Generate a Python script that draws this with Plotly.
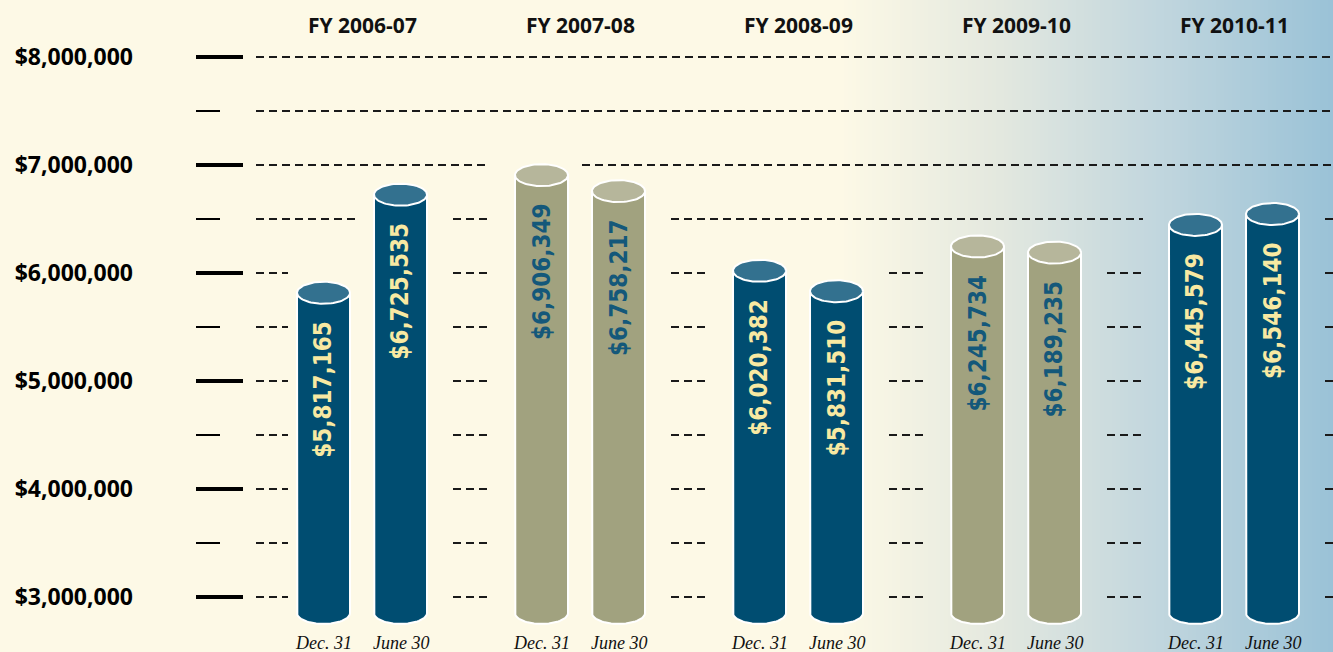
import numpy as np
import plotly.graph_objects as go

# ---------------- data ----------------
fiscal_years = ["FY 2006-07", "FY 2007-08", "FY 2008-09", "FY 2009-10", "FY 2010-11"]
period_labels = ["Dec. 31", "June 30"]
dec31_values = [5817165, 6906349, 6020382, 6245734, 6445579]
june30_values = [6725535, 6758217, 5831510, 6189235, 6546140]
y_tick_values = [3000000, 4000000, 5000000, 6000000, 7000000, 8000000]
y_tick_labels = ["$3,000,000", "$4,000,000", "$5,000,000", "$6,000,000", "$7,000,000", "$8,000,000"]
y_minor_values = [3500000, 4500000, 5500000, 6500000, 7500000]
grid_levels = sorted(y_tick_values + y_minor_values)

# ---------------- layout constants ----------------
W, H = 1333, 652
PLOT_L = 196
PX_PER_UNIT = 108 / 1e6
Y3_PIX = 597
y_top = 8e6 + (Y3_PIX - 5 * 108) / PX_PER_UNIT
y_bottom = y_top - H / PX_PER_UNIT
BASE = 3e6 - (613 - Y3_PIX) / PX_PER_UNIT
GROUP0, GROUP_STEP, BAR_OFF = 362, 218, 38.5
HW = 26.5
EH = 11 / PX_PER_UNIT

STYLES = [
    dict(body="#004d71", top="#33718f", text="#f8e9a2"),
    dict(body="#a1a27f", top="#b6b69b", text="#14587a"),
]

fig = go.Figure()

# ---------------- background gradient ----------------
stops = [(0, (253, 249, 230)), (840, (253, 249, 230)), (1000, (227, 232, 223)),
         (1150, (195, 215, 222)), (1333, (154, 194, 215))]
def grad(x):
    for (x0, c0), (x1, c1) in zip(stops[:-1], stops[1:]):
        if x0 <= x <= x1:
            t = (x - x0) / (x1 - x0)
            return "rgb(%d,%d,%d)" % tuple(round(a + (b - a) * t) for a, b in zip(c0, c1))
    return "rgb(%d,%d,%d)" % stops[-1][1]
shapes = []
step = 4
for xs in range(800, W, step):
    shapes.append(dict(type="rect", xref="x", yref="paper", x0=xs, x1=xs + step + 0.5,
                       y0=0, y1=1, fillcolor=grad(xs + step / 2), line_width=0, layer="below"))

# ---------------- bar geometry ----------------
bars = []
for g, fy in enumerate(fiscal_years):
    gc = GROUP0 + g * GROUP_STEP
    for k, vals in enumerate([dec31_values, june30_values]):
        bars.append(dict(cx=gc + (k * 2 - 1) * BAR_OFF, v=vals[g], style=STYLES[g % 2],
                         label=period_labels[k]))

# ---------------- dashed grid segments ----------------
gaps = [(256, 288)]
for g in range(len(fiscal_years)):
    mid = GROUP0 + g * GROUP_STEP + GROUP_STEP / 2
    gaps.append((mid - 18, mid + 18))
gx, gy = [], []
for lvl in grid_levels:
    ivs = list(gaps)
    for b in bars:
        if b["v"] + EH + 0.1e6 < lvl:
            ivs.append((b["cx"] - HW - 10, b["cx"] + HW + 10))
    ivs.sort()
    merged = [list(ivs[0])]
    for a, c in ivs[1:]:
        if a - merged[-1][1] <= 26:
            merged[-1][1] = max(merged[-1][1], c)
        else:
            merged.append([a, c])
    for a, c in merged:
        gx += [a, min(c, W + 5), None]
        gy += [lvl, lvl, None]
fig.add_trace(go.Scatter(x=gx, y=gy, mode="lines", hoverinfo="skip", showlegend=False,
                         line=dict(color="#1a1a1a", width=2, dash="8px,5px")))

# ---------------- cylinders ----------------
th = np.linspace(0, np.pi, 40)
tf = np.linspace(0, 2 * np.pi, 80)
annotations = []
for b in bars:
    cx, v, st = b["cx"], b["v"], b["style"]
    bx = [cx - HW, cx - HW] + list(cx - HW * np.cos(th)) + [cx + HW, cx + HW, cx - HW]
    by = [v, BASE] + list(BASE - EH * np.sin(th)) + [BASE, v, v]
    fig.add_trace(go.Scatter(x=bx, y=by, mode="lines", fill="toself", fillcolor=st["body"],
                             line=dict(color="white", width=2), hoverinfo="skip", showlegend=False))
    fig.add_trace(go.Scatter(x=list(cx + HW * np.cos(tf)), y=list(v + EH * np.sin(tf)), mode="lines",
                             fill="toself", fillcolor=st["top"], line=dict(color="white", width=2),
                             hoverinfo="skip", showlegend=False))
    annotations.append(dict(x=cx, y=v, xref="x", yref="y", text="${:,}".format(v), showarrow=False,
                            textangle=-90, yanchor="top", xanchor="center", yshift=-26,
                            font=dict(family="DejaVu Sans Condensed, DejaVu Sans", size=24,
                                      color=st["text"], weight="bold")))
    annotations.append(dict(x=cx, y=0, xref="x", yref="paper", text=b["label"], showarrow=False,
                            yanchor="bottom", xanchor="center", yshift=-3,
                            font=dict(family="Liberation Serif", size=18, color="#111111",
                                      style="italic")))

for g, fy in enumerate(fiscal_years):
    annotations.append(dict(x=GROUP0 + g * GROUP_STEP, y=1 - 25 / H, xref="x", yref="paper", text=fy,
                            showarrow=False, yanchor="middle", xanchor="center",
                            font=dict(family="Open Sans", size=21, color="#111111", weight="bold")))

fig.update_layout(
    width=W, height=H,
    margin=dict(l=PLOT_L, r=0, t=0, b=0),
    paper_bgcolor="#fdf9e6", plot_bgcolor="rgba(0,0,0,0)",
    showlegend=False, shapes=shapes, annotations=annotations,
    xaxis=dict(range=[PLOT_L, W], visible=False, fixedrange=True),
    yaxis=dict(range=[y_bottom, y_top], tickmode="array", tickvals=y_tick_values, ticktext=y_tick_labels,
               ticks="inside", ticklen=47, tickwidth=4, tickcolor="black",
               showgrid=False, zeroline=False, showline=False, fixedrange=True,
               ticklabelstandoff=62,
               tickfont=dict(family="Open Sans", size=23, color="black", weight="bold"),
               minor=dict(tickmode="array", tickvals=y_minor_values, ticks="inside", ticklen=24,
                          tickwidth=2, tickcolor="black", showgrid=False)),
)

fig.write_html("out.html", config={"displayModeBar": False},
               post_script="document.body.style.margin='0';document.body.style.background='#fdf9e6';")
